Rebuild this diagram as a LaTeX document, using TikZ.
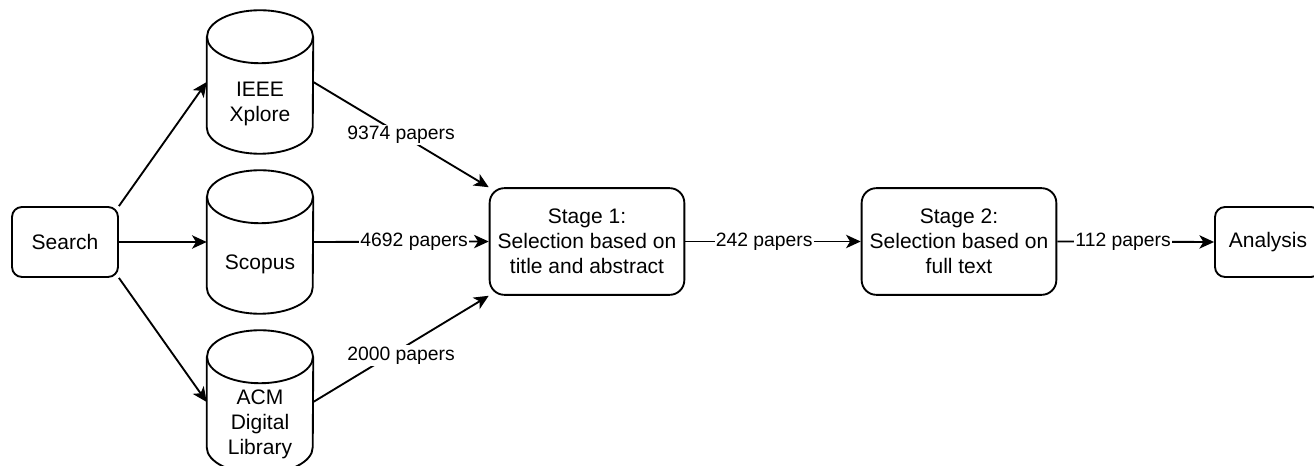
\documentclass[tikz,border=0pt]{standalone}
\usepackage{fontspec}
\setmainfont{Liberation Sans}
\usetikzlibrary{arrows.meta,calc}
\begin{document}
\begin{tikzpicture}[x=0.75pt,y=-0.75pt,
  line/.style={line width=1.4pt},
  arr/.style={line, -{Stealth[length=11pt,width=10pt,inset=3pt]}},
  nodefont/.style={font=\fontsize{15.75pt}{18.75pt}\selectfont},
  smallbox/.style={draw, line width=1.4pt, rounded corners=7.5pt, minimum width=79.5pt, minimum height=52.5pt, nodefont, align=center},
  stagebox/.style={draw, line width=1.4pt, rounded corners=11pt, minimum width=146pt, minimum height=80pt, nodefont, align=center},
  cylarea/.style={draw=none, minimum width=79.5pt, minimum height=107.25pt, inner sep=0pt},
  cyltext/.style={nodefont, align=center, inner sep=0pt},
  elabel/.style={font=\fontsize{14.5pt}{17pt}\selectfont, fill=white, inner sep=1pt}
]
\useasboundingbox (0,0) rectangle (1314,466);
\clip (0,0) rectangle (1314,466);

\newcommand\drawcyl[1]{%
  \draw[line] ($(#1.north west)+(0,26.5)$) -- ($(#1.south west)+(0,-26.5)$)
    arc[start angle=180, end angle=360, x radius=39.75pt, y radius=19.875pt]
    -- ($(#1.north east)+(0,26.5)$);
  \draw[line] ($(#1.north)+(0,26.5)$) ellipse[x radius=39.75pt, y radius=19.875pt];
}

\node[smallbox] (search) at (65,242) {Search};

\node[cylarea] (ieee) at (260,82) {};
\node[cylarea] (scopus) at (260,242) {};
\node[cylarea] (acm) at (260,402) {};
\drawcyl{ieee}
\drawcyl{scopus}
\drawcyl{acm}
\node[cyltext] (ieeetext) at (260,104) {IEEE\\Xplore};
\node[cyltext] (scopustext) at (260,264) {Scopus};
\node[cyltext] (acmtext) at (260,424) {ACM\\Digital\\Library};

\node[stagebox] (st1) at (587,241.5) {Stage 1:\\Selection based on\\title and abstract};
\node[stagebox] (st2) at (959,241.5) {Stage 2:\\Selection based on\\full text};
\node[smallbox] (analysis) at (1268,242) {Analysis};

\draw[arr] (search.north east) -- (ieee.west);
\draw[arr] (search.east) -- (scopus.west);
\draw[arr] (search.south east) -- (acm.west);

\draw[arr] (ieee.east) -- node[elabel, pos=0.5] {9374 papers} (st1.north west);
\draw[arr] (scopus.east) -- node[elabel, pos=0.575] {4692 papers} (st1.west);
\draw[arr] (acm.east) -- node[elabel, pos=0.5, yshift=-5pt] {2000 papers} (st1.south west);

\draw[arr] (st1.east) -- node[elabel, pos=0.45] {242 papers} (st2.west);
\draw[arr] (st2.east) -- node[elabel, pos=0.42] {112 papers} (analysis.west);
\end{tikzpicture}
\end{document}
